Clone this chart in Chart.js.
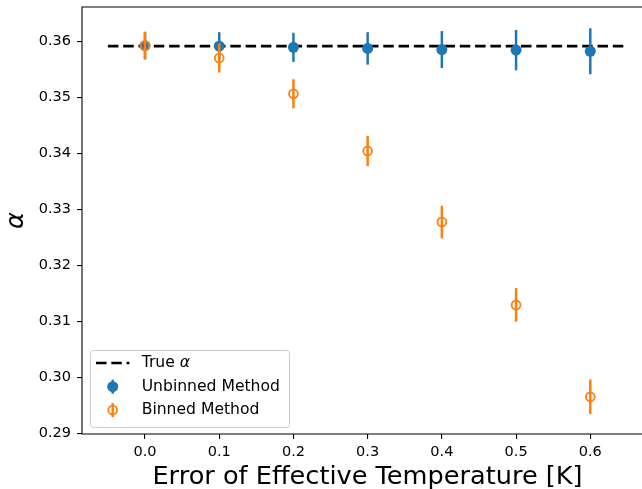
<!DOCTYPE html>
<html>
<head>
<meta charset="utf-8">
<script src="https://cdn.jsdelivr.net/npm/chart.js@4.4.0/dist/chart.umd.min.js"></script>
<style>
    html, body { margin: 0; padding: 0; background: #fff; overflow: hidden; }
    canvas { display: block; }
</style>
</head>
<body>
<canvas id="alphaChart" width="660" height="489"></canvas>
<script>
// error of the effective temperature [K]
const tempErrors = [0.0, 0.1, 0.2, 0.3, 0.4, 0.5, 0.6];

// fitted alpha and 1-sigma uncertainty for each method
const unbinnedAlpha = [0.3593, 0.3592, 0.3590, 0.3588, 0.3586, 0.3585, 0.3583];
const unbinnedErr = [0.0024, 0.0025, 0.0026, 0.0029, 0.0033, 0.0036, 0.0041];
const binnedAlpha = [0.3593, 0.3571, 0.3507, 0.3405, 0.3278, 0.3130, 0.2966];
const binnedErr = [0.0025, 0.0026, 0.0026, 0.0027, 0.0029, 0.0030, 0.0031];

const trueAlpha = 0.3592;
const trueLineX = [-0.05, 0.65];

const xTicks = [0.0, 0.1, 0.2, 0.3, 0.4, 0.5, 0.6];
const yTicks = [0.29, 0.30, 0.31, 0.32, 0.33, 0.34, 0.35, 0.36];

const BLUE = '#1f77b4';
const ORANGE = '#ff7f0e';
const FONT = 'DejaVu Sans';

const errorBars = (vals, errs) => tempErrors.map((x, i) => ({ x, y: [vals[i] - errs[i], vals[i] + errs[i]] }));
const points = vals => tempErrors.map((x, i) => ({ x, y: vals[i] }));

// fixed axis boxes, no extra room for overhanging tick labels
const fixBox = size => s => {
    if (s.isHorizontal()) s.height = size; else s.width = size;
    s.paddingTop = s.paddingBottom = s.paddingLeft = s.paddingRight = 0;
};

// left, bottom and top spines; the right one sits past the canvas edge
const spines = {
    id: 'spines',
    afterDatasetsDraw(chart) {
        const { ctx, chartArea: a } = chart;
        ctx.save();
        ctx.strokeStyle = '#000';
        ctx.lineWidth = 1.1;
        ctx.beginPath();
        ctx.moveTo(chart.width, a.top);
        ctx.lineTo(a.left, a.top);
        ctx.lineTo(a.left, a.bottom);
        ctx.lineTo(chart.width, a.bottom);
        ctx.stroke();
        ctx.restore();
    }
};

// framed legend in the lower-left corner
const boxLegend = {
    id: 'boxLegend',
    afterDraw(chart) {
        const { ctx, chartArea: a } = chart;
        const w = 199, h = 77;
        const x0 = a.left + 8, y0 = a.bottom - 7 - h;
        ctx.save();
        ctx.beginPath();
        ctx.roundRect(x0 + 0.5, y0 + 0.5, w, h, 3);
        ctx.fillStyle = 'rgba(255,255,255,0.8)';
        ctx.fill();
        ctx.strokeStyle = '#cccccc';
        ctx.lineWidth = 1;
        ctx.stroke();

        const hx = x0 + 22.7, tx = x0 + 51.7;
        const rows = [y0 + 13, y0 + 36.7, y0 + 60];

        // True alpha handle
        ctx.beginPath();
        ctx.setLineDash([10.5, 4.8]);
        ctx.strokeStyle = '#000';
        ctx.lineWidth = 2.7;
        ctx.moveTo(hx - 16.7, rows[0]);
        ctx.lineTo(hx + 16.7, rows[0]);
        ctx.stroke();
        ctx.setLineDash([]);

        // Unbinned handle
        ctx.fillStyle = BLUE;
        ctx.fillRect(hx - 1.25, rows[1] - 7, 2.5, 14);
        ctx.beginPath();
        ctx.arc(hx, rows[1], 5.5, 0, Math.PI * 2);
        ctx.fill();

        // Binned handle
        ctx.fillStyle = ORANGE;
        ctx.fillRect(hx - 1.25, rows[2] - 7, 2.5, 14);
        ctx.beginPath();
        ctx.arc(hx, rows[2], 4.4, 0, Math.PI * 2);
        ctx.strokeStyle = ORANGE;
        ctx.lineWidth = 1.8;
        ctx.stroke();

        ctx.fillStyle = '#000';
        ctx.textBaseline = 'middle';
        ctx.textAlign = 'left';
        ctx.font = `15.6px "${FONT}"`;
        ctx.fillText('True ', tx, rows[0]);
        const tw = ctx.measureText('True ').width;
        ctx.font = `italic 15.6px "${FONT}"`;
        ctx.fillText('α', tx + tw, rows[0]);
        ctx.font = `15.6px "${FONT}"`;
        ctx.fillText('Unbinned Method', tx, rows[1]);
        ctx.fillText('Binned Method', tx, rows[2]);
        ctx.restore();
    }
};

new Chart(document.getElementById('alphaChart'), {
    type: 'scatter',
    data: {
        datasets: [
            {
                type: 'line',
                label: 'True α',
                data: trueLineX.map(x => ({ x, y: trueAlpha })),
                borderColor: '#000',
                borderWidth: 2.7,
                borderDash: [10.5, 4.8],
                pointRadius: 0,
                fill: false,
                order: 5
            },
            {
                type: 'bar',
                label: 'Unbinned Method',
                data: errorBars(unbinnedAlpha, unbinnedErr),
                backgroundColor: BLUE,
                barThickness: 2.5,
                grouped: false,
                inflateAmount: 0,
                borderWidth: 0,
                order: 4
            },
            {
                label: 'Unbinned Method',
                data: points(unbinnedAlpha),
                pointRadius: 5.5,
                pointBackgroundColor: BLUE,
                pointBorderWidth: 0,
                order: 3
            },
            {
                type: 'bar',
                label: 'Binned Method',
                data: errorBars(binnedAlpha, binnedErr),
                backgroundColor: ORANGE,
                barThickness: 2.5,
                grouped: false,
                inflateAmount: 0,
                borderWidth: 0,
                order: 2
            },
            {
                label: 'Binned Method',
                data: points(binnedAlpha),
                pointRadius: 4.4,
                pointBackgroundColor: 'rgba(0,0,0,0)',
                pointBorderColor: ORANGE,
                pointBorderWidth: 1.8,
                order: 1
            }
        ]
    },
    options: {
        responsive: false,
        animation: false,
        events: [],
        layout: { padding: { top: 7, right: 7, left: 0, bottom: 0 }, autoPadding: false },
        plugins: {
            legend: { display: false },
            tooltip: { enabled: false }
        },
        scales: {
            x: {
                type: 'linear',
                min: -0.0849,
                max: 0.6845,
                offset: false,
                afterBuildTicks: s => { s.ticks = xTicks.map(value => ({ value })); },
                afterFit: fixBox(55),
                border: { display: false },
                grid: { offset: false, drawOnChartArea: false, drawTicks: true, tickLength: 5, tickColor: '#000', lineWidth: 1.1 },
                ticks: {
                    padding: 5,
                    color: '#000',
                    font: { family: FONT, size: 14.5 },
                    callback: v => v.toFixed(1)
                },
                title: {
                    display: true,
                    text: 'Error of Effective Temperature [K]',
                    color: '#000',
                    font: { family: FONT, size: 25.6, lineHeight: 1 },
                    padding: { top: 0, bottom: -1.5 }
                }
            },
            y: {
                type: 'linear',
                min: 0.28995,
                max: 0.3662,
                afterBuildTicks: s => { s.ticks = yTicks.map(value => ({ value })); },
                afterFit: fixBox(82),
                border: { display: false },
                grid: { drawOnChartArea: false, drawTicks: true, tickLength: 5, tickColor: '#000', lineWidth: 1.1 },
                ticks: {
                    padding: 6,
                    color: '#000',
                    font: { family: FONT, size: 14.5 },
                    callback: v => v.toFixed(2)
                },
                title: {
                    display: true,
                    text: 'α',
                    color: '#000',
                    font: { family: FONT, size: 25.6, style: 'italic', lineHeight: 1 },
                    padding: { top: 3.5, bottom: 0 }
                }
            }
        }
    },
    plugins: [spines, boxLegend]
});
</script>
</body>
</html>
